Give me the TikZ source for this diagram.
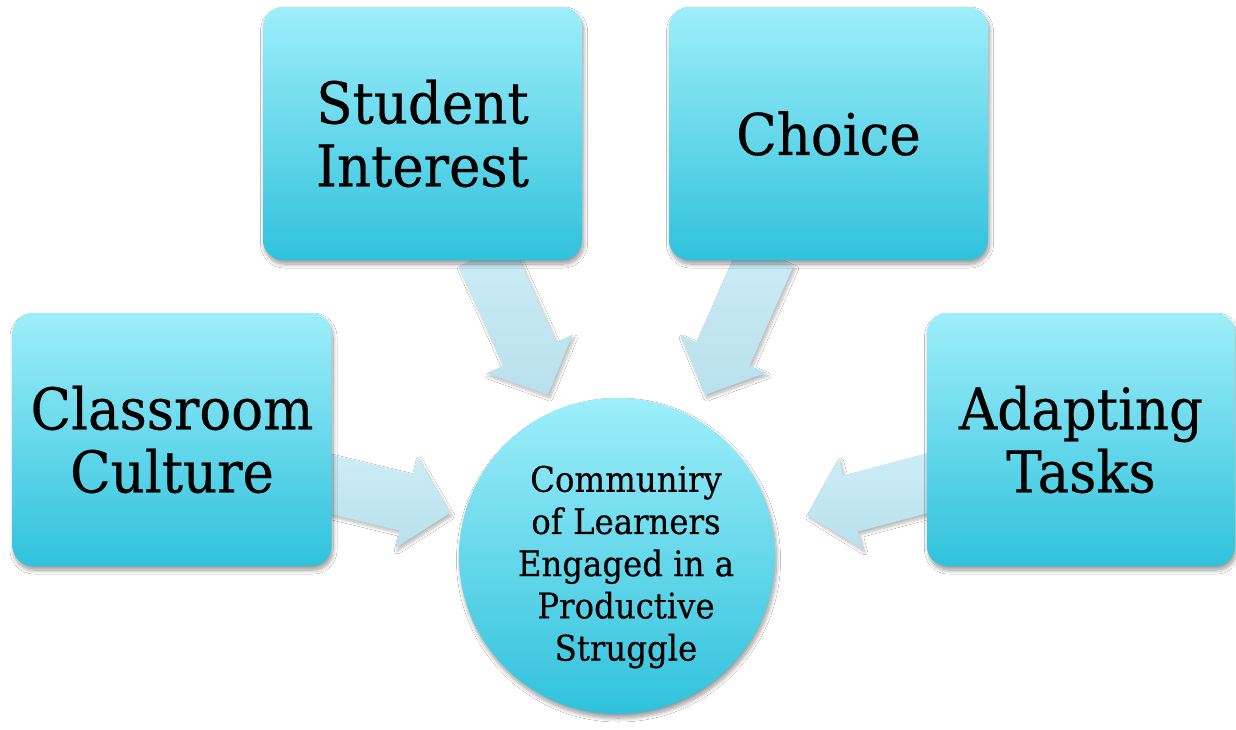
\documentclass[tikz,border=0pt]{standalone}
\usepackage{fontspec}
\setmainfont{DejaVu Serif}[FakeStretch=0.92, FakeBold=0.4]
\usetikzlibrary{calc,backgrounds,shadows.blur}

\definecolor{boxtop}{RGB}{158,238,250}
\definecolor{boxbot}{RGB}{48,194,220}
\definecolor{arrtop}{RGB}{204,237,246}
\definecolor{arrbot}{RGB}{184,224,237}

\tikzset{
  softshadow/.style={blur shadow={shadow xshift=1.5pt, shadow yshift=-4pt,
      shadow blur radius=4pt, shadow blur steps=12, shadow opacity=40}},
  tile/.style={rounded corners=20pt, minimum height=253pt,
      top color=boxtop, bottom color=boxbot, softshadow,
      align=center, inner sep=0pt, font=\fontsize{57.6}{63}\selectfont},
  hubstyle/.style={circle, minimum size=316pt, inner sep=0pt,
      top color=boxtop, bottom color=boxbot, softshadow},
  hubtextstyle/.style={align=center, inner sep=0pt,
      font=\fontsize{35.2}{42.2}\selectfont},
  arrowfill/.style={top color=arrtop, bottom color=arrbot,
      blur shadow={shadow xshift=2pt, shadow yshift=-3pt,
      shadow blur radius=3pt, shadow blur steps=10, shadow opacity=28}}
}

% block arrow: #1 name, #2 start, #3 tip
\newcommand\blockarrow[3]{%
  \coordinate (#1-b) at ($(#3)!45pt!(#2)$);
  \path[arrowfill]
    ($(#2)!29pt!90:(#3)$) --
    ($(#1-b)!29pt!90:(#3)$) --
    ($(#1-b)!47pt!90:(#3)$) --
    (#3) --
    ($(#1-b)!47pt!-90:(#3)$) --
    ($(#1-b)!29pt!-90:(#3)$) --
    ($(#2)!29pt!-90:(#3)$) -- cycle;
}

\begin{document}
\begin{tikzpicture}[x=1pt,y=-1pt]
  \useasboundingbox (0,0) rectangle (1236,730);

  \node[tile, minimum width=319pt] (interest) at (422.5,133.5) {Student\\Interest};
  \node[tile, minimum width=319pt] (choice)   at (828.5,133.5) {Choice};
  \node[tile, minimum width=319pt] (culture)  at (172,439.5)   {Classroom\\Culture};
  \node[tile, minimum width=308pt] (adapt)    at (1081,439.5)  {Adapting\\Tasks};

  \node[hubstyle] (hub) at (617,556) {};
  \node[hubtextstyle] (hubtext) at ($(hub.center)+(9,11)$)
    {Communiry\\of Learners\\Engaged in a\\Productive\\Struggle};

  % arrow ends: starts tucked under the tiles, tips just off the circle
  \coordinate (s1) at ($(interest.south)+(62.5,-6)$);
  \coordinate (s2) at ($(choice.south)+(-61.5,-6)$);
  \coordinate (s3) at ($(culture.east)+(-8,43)$);
  \coordinate (s4) at ($(adapt.west)+(7,42)$);
  \coordinate (t1) at ($(hub.center)+(-69,-161)$);
  \coordinate (t2) at ($(hub.center)+(88,-161)$);
  \coordinate (t3) at ($(hub.center)+(-167,-43)$);
  \coordinate (t4) at ($(hub.center)+(190,-41)$);

  \begin{scope}[on background layer]
    \fill[white] (0,0) rectangle (1236,730);
    \blockarrow{a1}{s1}{t1}
    \blockarrow{a2}{s2}{t2}
    \blockarrow{a3}{s3}{t3}
    \blockarrow{a4}{s4}{t4}
  \end{scope}
\end{tikzpicture}
\end{document}
